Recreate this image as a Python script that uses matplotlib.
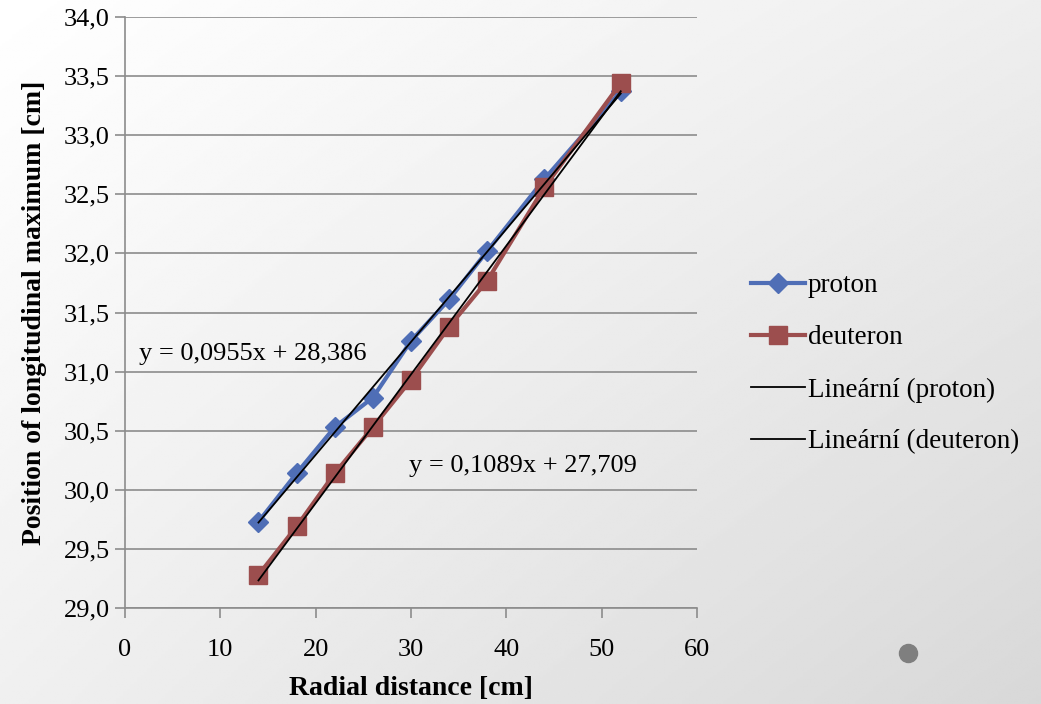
import matplotlib.pyplot as plt
import numpy as np
import matplotlib

matplotlib.rcParams['font.family'] = ['Liberation Serif', 'DejaVu Serif']

# data
radial = [14, 18, 22, 26, 30, 34, 38, 44, 52]
proton = [29.73, 30.14, 30.53, 30.78, 31.26, 31.61, 32.02, 32.63, 33.37]
deuteron = [29.28, 29.69, 30.14, 30.53, 30.93, 31.38, 31.77, 32.56, 33.44]
fit_slopes = [0.0955, 0.1089]
fit_intercepts = [28.386, 27.709]
fit_labels = ['y = 0,0955x + 28,386', 'y = 0,1089x + 27,709']
y_ticks = [29.0, 29.5, 30.0, 30.5, 31.0, 31.5, 32.0, 32.5, 33.0, 33.5, 34.0]
x_ticks = [0, 10, 20, 30, 40, 50, 60]

fig = plt.figure(figsize=(10.41, 7.04), dpi=100)

# pozadí s gradientem
bg = fig.add_axes([0, 0, 1, 1], zorder=-10)
u, v = np.meshgrid(np.linspace(0, 1, 300), np.linspace(0, 1, 300))
shade = 1.0 - 0.067 * u - 0.06 * v - 0.026 * u * v
bg.imshow(shade, cmap='gray', vmin=0, vmax=1, aspect='auto', extent=[0, 1, 0, 1], origin='upper')
bg.axis('off')
bg.set_xlim(0, 1)
bg.set_ylim(0, 1)
bg.plot([908 / 1041], [1 - 653 / 704], 'o', color='#7f7f7f', markersize=13)

ax = fig.add_axes([125 / 1041, 1 - 608 / 704, 572 / 1041, 591 / 704])
ax.patch.set_alpha(0)

ax.plot(radial, proton, '-D', color='#4F6EB6', lw=3, markersize=10, label='proton', zorder=3)
ax.plot(radial, deuteron, '-s', color='#9C4E4E', lw=3, markersize=13, label='deuteron', zorder=4)

xs = np.array([radial[0], radial[-1]])
names = ['Lineární (proton)', 'Lineární (deuteron)']
for k, s, b in zip(names, fit_slopes, fit_intercepts):
    ax.plot(xs, s * xs + b, color='black', lw=1.3, label=k, zorder=5)

ax.text(1.5, 31.15, fit_labels[0], fontsize=19, va='center', ha='left')
ax.text(29.8, 30.2, fit_labels[1], fontsize=19, va='center', ha='left')

ax.set_xlim(0, 60)
ax.set_ylim(29, 34)
ax.set_xticks(x_ticks)
ax.set_yticks(y_ticks)
ax.set_yticklabels([f'{t:.1f}'.replace('.', ',') for t in y_ticks])
ax.grid(axis='y', color='#8c8c8c', lw=1.2)
ax.set_axisbelow(True)
for sp in ['top', 'right']:
    ax.spines[sp].set_visible(False)
for sp in ['left', 'bottom']:
    ax.spines[sp].set_color('#8c8c8c')
    ax.spines[sp].set_linewidth(1.2)
ax.tick_params(axis='both', colors='#8c8c8c', labelcolor='black', labelsize=19, width=1.2)
ax.tick_params(axis='y', length=7, pad=4)
ax.tick_params(axis='x', length=7, pad=15)

ax.set_xlabel('Radial distance [cm]', fontsize=20, fontweight='bold', labelpad=11)
ax.set_ylabel('Position of longitudinal maximum [cm]', fontsize=20, fontweight='bold', labelpad=12)

leg = ax.legend(loc='center left', bbox_to_anchor=(1.075, 0.413), frameon=False, fontsize=19.5,
                handlelength=2.0, handletextpad=0.1, labelspacing=1.0, borderaxespad=0)

plt.savefig('out.png', dpi=100)
